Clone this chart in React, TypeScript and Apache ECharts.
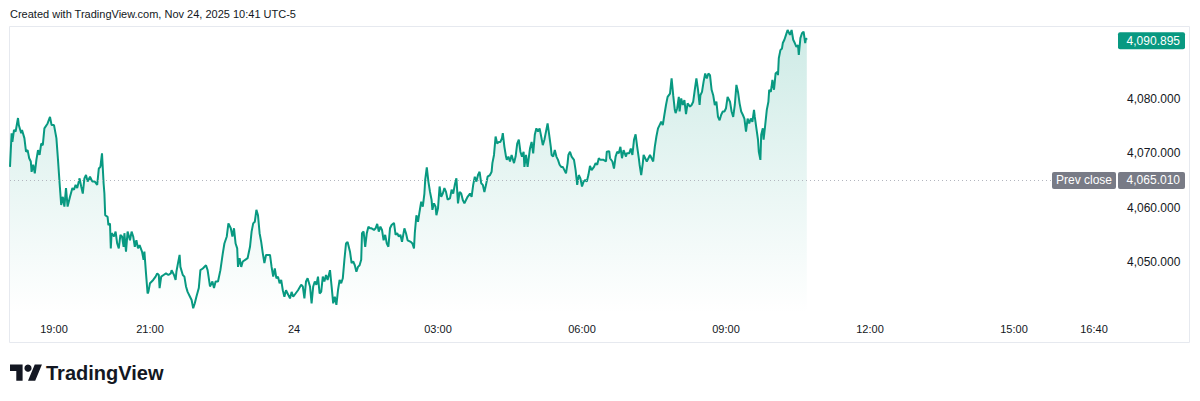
import React, { useEffect, useRef } from "react";
import * as echarts from "echarts";

// minutes since the 18:00 session open (Nov 23, UTC-5)
const minutesFromOpen: number[] = [
  5, 7, 8, 10, 12, 15, 16, 19, 20, 23,
  25, 27, 29, 31, 32, 34, 36, 38, 40, 42,
  44, 46, 48, 52, 55, 57, 60, 63, 65, 67,
  69, 71, 73, 75, 77, 80, 83, 85, 87, 89,
  92, 94, 96, 98, 100, 102, 105, 108, 111, 114,
  116, 118, 120, 122, 123, 124, 127, 128, 130, 131,
  132, 135, 137, 139, 141, 143, 145, 147, 148, 150,
  152, 155, 157, 159, 161, 163, 165, 167, 170, 172,
  173, 175, 177, 178, 180, 184, 187, 189, 191, 192,
  194, 197, 200, 203, 206, 207, 210, 212, 213, 215,
  217, 218, 221, 223, 225, 227, 230, 232, 234, 236,
  238, 241, 243, 246,
  250, 252, 255, 258, 260, 262, 265, 268, 271, 273,
  276, 278, 281, 283, 285, 287, 289, 290, 292, 294,
  296, 299, 302, 305, 307, 309, 311, 313, 315, 317,
  319, 321, 323, 325, 330, 332, 334, 336, 338, 340,
  342, 344, 346, 348, 350, 352, 355, 357, 359, 362,
  365, 369, 371, 373, 375, 377, 380, 382, 384, 386,
  388, 390, 392, 394, 396, 398, 400, 402, 405, 407,
  409, 411, 413, 415, 417, 419, 421, 423, 425, 427,
  430, 432, 434, 436, 438, 440, 442, 444, 445, 447,
  449, 451, 453, 455, 457, 460, 462, 464, 466, 468,
  470, 472, 474, 476, 478, 480, 482, 485, 487, 489,
  491, 493,
  495, 498, 500, 502, 506, 508, 510, 511, 513, 515,
  517, 519, 521, 523, 524, 526, 528, 530, 532, 533,
  535, 537, 538, 540, 542, 544, 546, 548, 550, 552,
  555, 557, 559, 561, 563, 565, 567, 569, 571, 573,
  575, 577, 580, 582, 584, 586, 588, 590, 592, 594,
  596, 598, 600, 602, 605, 607, 608, 610, 612, 614,
  616, 618, 620, 621, 623, 625, 626, 628, 630, 632,
  635, 637, 639, 641, 643, 645, 647, 648, 650, 652,
  655, 657, 659, 661, 663, 665, 667, 669, 671, 673,
  675, 677, 679, 681, 682, 684, 686, 688, 690, 692,
  694, 696, 698, 700, 702, 703, 705, 707, 710, 712,
  714, 716, 718, 720, 722, 724, 726, 728, 730, 732,
  735, 737, 739, 741, 743,
  747, 750, 751, 754, 755, 758, 760, 762, 764, 766,
  768, 770, 772, 775, 776, 779, 781, 783, 785, 787,
  789, 791, 792, 794, 796, 797, 799, 801, 803, 805,
  807, 809, 811, 813, 815, 817, 819, 821, 823, 825,
  827, 830, 832, 834, 836, 837, 839, 841, 842, 844,
  846, 848, 850, 852, 855, 857, 859, 861, 863, 865,
  867, 868, 870, 872, 874, 876, 878, 880, 882, 884,
  886, 888, 890, 892, 894, 896, 898, 900, 902, 905,
  907, 909, 911, 913, 915, 917, 919, 921, 923, 925,
  927, 929, 931, 933, 935, 936, 938, 940, 941, 943,
  944, 946, 947, 949, 951, 953, 954, 956, 957, 958,
  960, 961, 962, 964, 965, 966, 968, 970, 971, 973,
  975, 977, 980, 982, 984, 986, 988, 990, 991, 993,
  995, 997, 999, 1000, 1001,
];

const prices: number[] = [
  4067.5, 4073.7, 4072.1, 4074.3, 4074.0, 4076.5, 4075.2, 4073.7, 4074.3, 4072.8,
  4070.3, 4070.6, 4069.1, 4068.5, 4066.6, 4067.9, 4066.3, 4068.8, 4070.6, 4069.7,
  4071.8, 4071.5, 4074.6, 4075.5, 4076.7, 4075.2, 4075.2, 4072.8, 4068.8, 4064.5,
  4060.5, 4062.0, 4060.2, 4063.6, 4060.2, 4062.0, 4063.6, 4063.3, 4064.2, 4063.6,
  4065.4, 4063.9, 4062.6, 4065.4, 4066.0, 4064.8, 4065.7, 4064.8, 4064.8, 4064.2,
  4067.2, 4067.5, 4070.0, 4064.5, 4062.6, 4058.6, 4058.3, 4056.8, 4057.1, 4052.5,
  4055.3, 4054.7, 4055.6, 4053.4, 4052.5, 4055.0, 4054.7, 4052.8, 4055.3, 4051.9,
  4055.6, 4054.0, 4055.6, 4054.7, 4052.8, 4054.0, 4052.5, 4053.1, 4051.9, 4050.4,
  4051.9, 4047.9, 4044.2, 4044.5, 4046.1, 4046.7, 4047.3, 4047.9, 4047.6, 4045.2,
  4047.3, 4047.6, 4047.9, 4047.6, 4047.9, 4048.5, 4047.6, 4046.7, 4048.2, 4049.8,
  4051.3, 4049.1, 4047.6, 4047.3, 4045.5, 4044.5, 4043.6, 4043.0, 4041.5, 4042.4,
  4043.6, 4045.2, 4048.5, 4048.8,
  4049.4, 4048.5, 4045.5, 4046.4, 4045.2, 4046.4, 4046.4, 4048.5, 4051.6, 4053.4,
  4054.7, 4057.1, 4056.2, 4054.7, 4056.2, 4053.4, 4052.5, 4049.1, 4050.7, 4049.1,
  4050.1, 4050.4, 4050.7, 4052.8, 4055.6, 4057.1, 4057.4, 4059.6, 4058.6, 4055.3,
  4053.7, 4051.6, 4049.8, 4051.3, 4051.3, 4049.1, 4047.3, 4048.8, 4047.0, 4047.3,
  4046.1, 4046.7, 4044.8, 4043.6, 4044.8, 4044.2, 4043.3, 4044.5, 4043.6, 4044.2,
  4044.8, 4045.8, 4045.5, 4043.3, 4046.4, 4047.0, 4045.5, 4042.4, 4045.5, 4046.4,
  4045.8, 4047.3, 4044.2, 4044.5, 4047.3, 4046.4, 4047.6, 4046.7, 4048.5, 4045.5,
  4042.4, 4043.6, 4042.1, 4044.8, 4046.7, 4046.1, 4047.0, 4050.4, 4053.4, 4053.7,
  4051.9, 4049.8, 4050.1, 4049.4, 4048.2, 4049.1, 4049.4, 4050.4, 4055.3, 4055.6,
  4052.8, 4055.3, 4056.5, 4056.2, 4056.2, 4055.9, 4056.2, 4057.0, 4055.6, 4056.5,
  4055.9, 4054.0, 4055.0, 4053.4, 4052.8, 4056.2, 4056.8, 4057.2, 4055.0, 4055.3,
  4054.7, 4055.0,
  4053.7, 4056.2, 4055.3, 4054.0, 4053.7, 4053.4, 4052.5, 4055.3, 4058.6, 4057.4,
  4059.3, 4061.1, 4060.2, 4062.6, 4065.1, 4067.4, 4064.8, 4062.9, 4061.4, 4059.6,
  4060.8, 4060.2, 4058.6, 4059.9, 4063.9, 4062.0, 4062.6, 4063.6, 4062.9, 4061.5,
  4061.7, 4063.3, 4062.6, 4064.2, 4065.4, 4060.8, 4062.9, 4062.6, 4061.4, 4060.8,
  4061.4, 4062.0, 4062.6, 4062.0, 4064.2, 4065.7, 4064.8, 4066.0, 4066.6, 4064.5,
  4064.2, 4062.9, 4064.2, 4065.7, 4066.0, 4066.6, 4068.2, 4069.7, 4073.1, 4071.8,
  4072.1, 4072.1, 4072.8, 4073.7, 4071.2, 4069.4, 4068.8, 4069.4, 4068.5, 4069.7,
  4068.2, 4069.4, 4071.8, 4072.5, 4070.3, 4069.4, 4070.3, 4067.5, 4069.7, 4067.5,
  4070.9, 4072.1, 4070.0, 4073.4, 4074.6, 4074.0, 4074.6, 4073.1, 4071.5, 4072.5,
  4074.0, 4075.5, 4073.4, 4071.2, 4069.7, 4069.4, 4070.6, 4069.4, 4068.8, 4067.9,
  4067.5, 4067.5, 4066.9, 4066.3, 4068.2, 4069.7, 4070.3, 4069.4, 4068.8, 4066.9,
  4064.2, 4066.0, 4065.4, 4063.9, 4064.8, 4065.1, 4064.8, 4066.0, 4067.7, 4066.9,
  4067.5, 4068.2, 4067.9, 4069.1, 4068.8,
  4068.8, 4068.5, 4070.3, 4070.4, 4069.1, 4068.5, 4067.2, 4069.4, 4070.3, 4070.0,
  4071.2, 4069.1, 4070.6, 4069.4, 4070.0, 4070.0, 4070.9, 4069.7, 4072.5, 4073.5,
  4071.2, 4069.1, 4067.9, 4066.0, 4068.2, 4069.7, 4069.1, 4068.5, 4069.1, 4069.7,
  4069.1, 4068.5, 4071.2, 4073.1, 4074.6, 4075.2, 4075.8, 4075.2, 4077.1, 4078.9,
  4080.4, 4081.0, 4083.8, 4080.7, 4078.0, 4077.4, 4078.3, 4080.4, 4077.7, 4080.1,
  4078.9, 4079.8, 4077.2, 4079.2, 4078.6, 4078.9, 4079.5, 4081.7, 4083.8, 4081.7,
  4078.9, 4080.7, 4081.3, 4083.2, 4084.7, 4083.8, 4084.7, 4084.4, 4081.7, 4080.7,
  4078.9, 4079.5, 4076.7, 4076.1, 4077.1, 4077.7, 4077.7, 4078.3, 4080.4, 4079.5,
  4077.7, 4076.7, 4078.9, 4082.6, 4081.3, 4079.2, 4077.7, 4077.1, 4076.4, 4074.0,
  4076.4, 4075.5, 4076.4, 4075.8, 4078.0, 4076.7, 4074.6, 4072.5, 4070.3, 4068.8,
  4073.4, 4074.6, 4072.5, 4075.2, 4078.0, 4079.5, 4081.7, 4081.3, 4082.3, 4083.5,
  4081.7, 4083.2, 4084.7, 4085.0, 4084.4, 4087.5, 4089.0, 4089.3, 4090.3, 4090.9,
  4091.8, 4092.7, 4091.8, 4092.7, 4090.9, 4090.3, 4089.6, 4089.9, 4088.1, 4091.2,
  4092.1, 4092.4, 4090.3, 4091.2, 4090.895,
];

const xTickMinutes: number[] = [60, 180, 360, 540, 720, 900, 1080, 1260, 1360];
const xTickLabels: string[] = ["19:00", "21:00", "24", "03:00", "06:00", "09:00", "12:00", "15:00", "16:40"];
const yTickValues: number[] = [4050, 4060, 4070, 4080];

const LAST_PRICE = 4090.895;
const PREV_CLOSE = 4065.01;
const X_MIN = 5;
const X_MAX = 1380;
const Y_MIN = 4040.43;
const Y_MAX = 4093.25;

const GREEN = "#089981";
const TEXT = "#131722";
const FONT = "'Liberation Sans', Arial, sans-serif";

const LOGO_PATH = "M14 22H7V11H0V4h14v18zM28 22h-8l7.5-18h8L28 22z";
let logoRegistered = false;

const fmt = (v: number) =>
  v.toLocaleString("en-US", { minimumFractionDigits: 3, maximumFractionDigits: 3 });

export default function App() {
  const ref = useRef<HTMLDivElement>(null);

  useEffect(() => {
    document.body.style.margin = "0";
    if (!logoRegistered) {
      echarts.graphic.registerShape("tvlogo", echarts.graphic.extendPath(LOGO_PATH, {}));
      logoRegistered = true;
    }
    const chart = echarts.init(ref.current!, undefined, { renderer: "svg" });
    const data = minutesFromOpen.map((m, i) => [m, prices[i]]);

    chart.setOption({
      animation: false,
      backgroundColor: "#ffffff",
      grid: { left: 10, right: 90, top: 27, bottom: 87, containLabel: false },
      xAxis: {
        type: "value",
        min: X_MIN,
        max: X_MAX,
        axisLine: { show: false },
        axisTick: { show: false },
        splitLine: { show: false },
        axisLabel: {
          customValues: xTickMinutes,
          formatter: (v: number) => {
            const i = xTickMinutes.indexOf(Math.round(v));
            return i >= 0 ? xTickLabels[i] : "";
          },
          color: TEXT,
          fontSize: 11,
          fontFamily: FONT,
          margin: 9,
          hideOverlap: false,
        },
      },
      yAxis: {
        type: "value",
        position: "right",
        min: Y_MIN,
        max: Y_MAX,
        axisLine: { show: false },
        axisTick: { show: false },
        splitLine: { show: false },
        axisLabel: {
          customValues: yTickValues,
          formatter: (v: number) => fmt(v),
          color: TEXT,
          fontSize: 12,
          fontFamily: FONT,
          margin: 17,
          align: "left",
        },
      },
      series: [
        {
          type: "line",
          data,
          showSymbol: false,
          symbol: "none",
          lineStyle: { width: 2, color: GREEN },
          itemStyle: { color: GREEN },
          areaStyle: {
            color: new echarts.graphic.LinearGradient(0, 0, 0, 1, [
              { offset: 0, color: "rgba(8,153,129,0.28)" },
              { offset: 1, color: "rgba(8,153,129,0)" },
            ]),
          },
          markLine: {
            silent: true,
            symbol: "none",
            label: { show: false },
            lineStyle: { type: [1, 3], color: "#b2b5be", width: 1 },
            data: [{ yAxis: PREV_CLOSE }],
          },
        },
      ],
    });

    const yLast = chart.convertToPixel({ yAxisIndex: 0 }, LAST_PRICE) as number;
    const yPrev = chart.convertToPixel({ yAxisIndex: 0 }, PREV_CLOSE) as number;
    const boxH = 17;
    const logoX = 10;
    const logoY = 361;
    const logoS = 0.9;

    chart.setOption({
      graphic: [
        {
          type: "rect",
          silent: true,
          z: 0,
          shape: { x: 9.5, y: 26.5, width: 1180, height: 316 },
          style: { fill: "none", stroke: "#e6e9ef", lineWidth: 1 },
        },
        {
          type: "text",
          x: 10,
          y: 14,
          style: {
            text: "Created with TradingView.com, Nov 24, 2025 10:41 UTC-5",
            fill: TEXT,
            font: `11px ${FONT}`,
            textVerticalAlign: "middle",
          },
        },
        {
          type: "rect",
          z: 10,
          shape: { x: 1118, y: yLast - boxH / 2 + 1, width: 67, height: boxH, r: 2 },
          style: { fill: GREEN },
        },
        {
          type: "text",
          z: 11,
          x: 1180,
          y: yLast + 1,
          style: {
            text: fmt(LAST_PRICE),
            fill: "#ffffff",
            font: `12px ${FONT}`,
            textAlign: "right",
            textVerticalAlign: "middle",
          },
        },
        {
          type: "rect",
          z: 10,
          shape: { x: 1052, y: yPrev - boxH / 2, width: 64, height: boxH, r: 2 },
          style: { fill: "#787b86" },
        },
        {
          type: "text",
          z: 11,
          x: 1084,
          y: yPrev,
          style: {
            text: "Prev close",
            fill: "#ffffff",
            font: `12px ${FONT}`,
            textAlign: "center",
            textVerticalAlign: "middle",
          },
        },
        {
          type: "rect",
          z: 10,
          shape: { x: 1118, y: yPrev - boxH / 2, width: 67, height: boxH, r: 2 },
          style: { fill: "#787b86" },
        },
        {
          type: "text",
          z: 11,
          x: 1180,
          y: yPrev,
          style: {
            text: fmt(PREV_CLOSE),
            fill: "#ffffff",
            font: `12px ${FONT}`,
            textAlign: "right",
            textVerticalAlign: "middle",
          },
        },
        {
          type: "tvlogo",
          x: logoX,
          y: logoY,
          scaleX: logoS,
          scaleY: logoS,
          style: { fill: TEXT },
        },
        {
          type: "circle",
          shape: { cx: logoX + 20 * logoS, cy: logoY + 8 * logoS, r: 4 * logoS },
          style: { fill: TEXT },
        },
        {
          type: "text",
          x: 46,
          y: 373,
          style: {
            text: "TradingView",
            fill: TEXT,
            font: `bold 20px ${FONT}`,
            textVerticalAlign: "middle",
          },
        },
      ],
    });

    return () => chart.dispose();
  }, []);

  return (
    <div
      ref={ref}
      style={{ position: "absolute", left: 0, top: 0, width: 1200, height: 401, background: "#fff" }}
    />
  );
}
